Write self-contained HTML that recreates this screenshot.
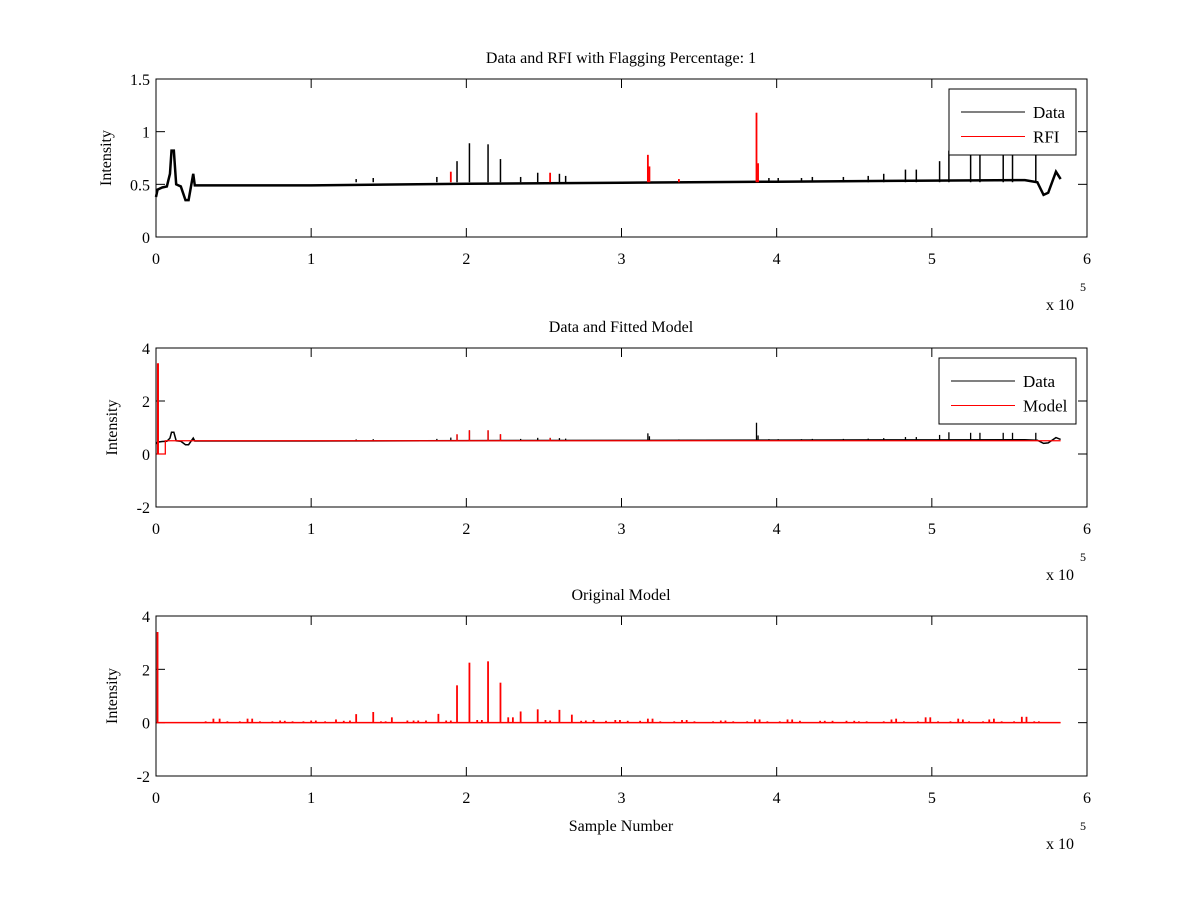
<!DOCTYPE html>
<html><head><meta charset="utf-8"><style>
html,body{margin:0;padding:0;background:#fff;}
svg{display:block;font-family:"Liberation Serif",serif;}
</style></head><body>
<svg id="c" width="1200" height="900"></svg>
<script>
// x values in units of 1e5 samples
const xTicks=[0,1,2,3,4,5,6];
const yTicks1=[0,0.5,1,1.5];
const yTicks23=[-2,0,2,4];
const baseX=[0,0.01,0.04,0.07,0.09,0.1,0.115,0.13,0.16,0.19,0.21,0.24,0.25,1,2,3,4,5,5.6,5.68,5.72,5.75,5.8,5.83];
const baseY=[0.38,0.45,0.47,0.48,0.6,0.82,0.82,0.5,0.48,0.35,0.35,0.6,0.49,0.49,0.505,0.515,0.525,0.535,0.54,0.52,0.4,0.42,0.62,0.55];
const dataSpikeX=[1.29,1.4,1.81,1.94,2.02,2.14,2.22,2.35,2.46,2.6,2.64,3.95,4.01,4.16,4.23,4.43,4.59,4.69,4.83,4.9,5.05,5.11,5.25,5.31,5.46,5.52,5.67];
const dataSpikeY=[0.55,0.56,0.57,0.72,0.89,0.88,0.74,0.57,0.61,0.6,0.58,0.56,0.56,0.56,0.57,0.57,0.58,0.6,0.64,0.64,0.72,0.82,0.8,0.8,0.8,0.8,0.8];
const rfiX=[1.9,2.54,3.17,3.18,3.37,3.87,3.88];
const rfiY=[0.62,0.61,0.78,0.67,0.55,1.18,0.7];
const fitSpikeX=[0.01,1.94,2.02,2.14,2.22,2.54];
const fitSpikeY=[3.4,0.75,0.9,0.9,0.75,0.6];
const origX=[0.01,0.32,0.37,0.41,0.46,0.54,0.59,0.62,0.67,0.75,0.8,0.83,0.88,0.95,1.0,1.03,1.09,1.16,1.21,1.25,1.29,1.4,1.45,1.48,1.52,1.62,1.66,1.69,1.74,1.82,1.87,1.9,1.94,2.02,2.07,2.1,2.14,2.22,2.27,2.3,2.35,2.46,2.51,2.54,2.6,2.68,2.74,2.77,2.82,2.9,2.96,2.99,3.04,3.12,3.17,3.2,3.25,3.34,3.39,3.42,3.47,3.59,3.64,3.67,3.72,3.81,3.86,3.89,3.94,4.02,4.07,4.1,4.15,4.28,4.31,4.36,4.45,4.5,4.53,4.58,4.69,4.74,4.77,4.82,4.91,4.96,4.99,5.04,5.12,5.17,5.2,5.24,5.33,5.37,5.4,5.45,5.53,5.58,5.61,5.66,5.69];
const origY=[3.4,0.05,0.15,0.15,0.05,0.05,0.15,0.15,0.05,0.05,0.08,0.07,0.05,0.05,0.08,0.08,0.05,0.12,0.07,0.08,0.32,0.4,0.05,0.05,0.2,0.08,0.08,0.08,0.08,0.33,0.08,0.08,1.4,2.25,0.1,0.1,2.3,1.5,0.2,0.2,0.42,0.5,0.1,0.08,0.48,0.3,0.07,0.08,0.1,0.07,0.1,0.1,0.07,0.07,0.15,0.15,0.05,0.05,0.1,0.1,0.05,0.05,0.08,0.08,0.05,0.05,0.12,0.12,0.05,0.05,0.12,0.12,0.07,0.07,0.07,0.07,0.07,0.07,0.05,0.05,0.05,0.12,0.15,0.05,0.05,0.2,0.2,0.05,0.05,0.15,0.12,0.05,0.05,0.12,0.15,0.05,0.05,0.22,0.22,0.05,0.05];
const xEnd=5.83;

const svg=document.getElementById('c');
const NS='http://www.w3.org/2000/svg';
function mk(tag,attrs,parent){const e=document.createElementNS(NS,tag);for(const k in attrs)e.setAttribute(k,attrs[k]);(parent||svg).appendChild(e);return e;}
const L=156,R=1087;
const sx=v=>L+v/6*(R-L);

function axes(top,bot,ymin,ymax,yt,title,ytitleX,name){
  const sy=v=>bot-(v-ymin)/(ymax-ymin)*(bot-top);
  const g=mk('g',{});
  
  
  const t=mk('text',{x:621,y:top-16,'text-anchor':'middle','font-size':16},g);t.textContent=title;
  
  const yl=mk('text',{x:ytitleX,y:(top+bot)/2,'text-anchor':'middle','font-size':16,transform:`rotate(-90 ${ytitleX} ${(top+bot)/2})`},g);yl.textContent='Intensity';
  
  xTicks.forEach(v=>{const x=sx(v);
    mk('line',{x1:x,x2:x,y1:bot,y2:bot-9,stroke:'#000'},g);mk('line',{x1:x,x2:x,y1:top,y2:top+9,stroke:'#000'},g);
    const tl=mk('text',{x:x,y:bot+27,'text-anchor':'middle','font-size':16},g);tl.textContent=v;
    });
  yt.forEach(v=>{const y=sy(v);
    mk('line',{x1:L,x2:L+9,y1:y,y2:y,stroke:'#000'},g);mk('line',{x1:R,x2:R-9,y1:y,y2:y,stroke:'#000'},g);
    const tl=mk('text',{x:150,y:y+6,'text-anchor':'end','font-size':16},g);tl.textContent=v;
    });
  const ex=mk('text',{x:1046,y:bot+73,'font-size':16},g);ex.textContent='x 10';
  
  const e5=mk('text',{x:1080,y:bot+54,'font-size':12},g);e5.textContent='5';
  
  return {g,sy,top,bot};
}
function baseline(a,offset,color,w,name){
  const pts=baseX.map((x,i)=>sx(x)+','+a.sy(baseY[i]+offset)).join(' ');
  const p=mk('polyline',{points:pts,fill:'none',stroke:color,'stroke-width':w},a.g);
  
}
function spikes(a,xs,ys,base,color,w,name,abs){
  xs.forEach((x,i)=>{const y0=base;const y1=abs?ys[i]:base+ys[i];
    const l=mk('line',{x1:sx(x),x2:sx(x),y1:a.sy(y0),y2:a.sy(y1),stroke:color,'stroke-width':w},a.g);
    });
}
function box(a){const r=mk('rect',{x:L,y:a.top,width:R-L,height:a.bot-a.top,fill:'none',stroke:'#000'},a.g);
  }
function legend(a,x1,y1,x2,y2,labels,colors){
  const g=mk('g',{},a.g);
  mk('rect',{x:x1,y:y1,width:x2-x1,height:y2-y1,fill:'#fff',stroke:'#000'},g);
  labels.forEach((lb,i)=>{const y=y1+23+i*24.5;
    const ln=mk('line',{x1:x1+12,x2:x1+76,y1:y,y2:y,stroke:colors[i]},g);
    
    const t=mk('text',{x:x1+84,y:y+6,'font-size':17},g);t.textContent=lb;
    });
}
// Panel 1
const a1=axes(79,237,0,1.5,yTicks1,'Data and RFI with Flagging Percentage: 1',111,'panel-data-rfi');
baseline(a1,0,'#000',2.5,'data-line');
spikes(a1,dataSpikeX,dataSpikeY,0.52,'#000',1.5,'data-spike',true);
spikes(a1,rfiX,rfiY,0.52,'#f00',1.8,'rfi-spike',true);
box(a1);
legend(a1,949,89,1076,155,['Data','RFI'],['#000','#f00']);
// Panel 2
const a2=axes(348,507,-2,4,yTicks23,'Data and Fitted Model',117,'panel-fitted-model');
baseline(a2,0,'#000',1.5,'data-line');
spikes(a2,dataSpikeX,dataSpikeY,0.5,'#000',1.3,'data-spike',true);
spikes(a2,rfiX,rfiY,0.5,'#000',1.3,'data-spike',true);
(function(){const pts=[[0,0],[0.01,0],[0.01,3.4],[0.015,3.4],[0.015,0],[0.06,0],[0.06,0.5],[xEnd,0.5]].map(p=>sx(p[0])+','+a2.sy(p[1])).join(' ');
 const p=mk('polyline',{points:pts,fill:'none',stroke:'#f00','stroke-width':1.3},a2.g);})();
spikes(a2,fitSpikeX.slice(1),fitSpikeY.slice(1),0.5,'#f00',1.3,'model-spike',true);
box(a2);
legend(a2,939,358,1076,424,['Data','Model'],['#000','#f00']);
// Panel 3
const a3=axes(616,776,-2,4,yTicks23,'Original Model',117,'panel-original-model');
(function(){const l=mk('line',{x1:sx(0),x2:sx(xEnd),y1:a3.sy(0),y2:a3.sy(0),stroke:'#f00','stroke-width':1.5},a3.g);
 })();
spikes(a3,origX,origY,0,'#f00',1.8,'model-spike',false);
box(a3);
const xt=mk('text',{x:621,y:831,'text-anchor':'middle','font-size':16});xt.textContent='Sample Number';


</script>
</body></html>
